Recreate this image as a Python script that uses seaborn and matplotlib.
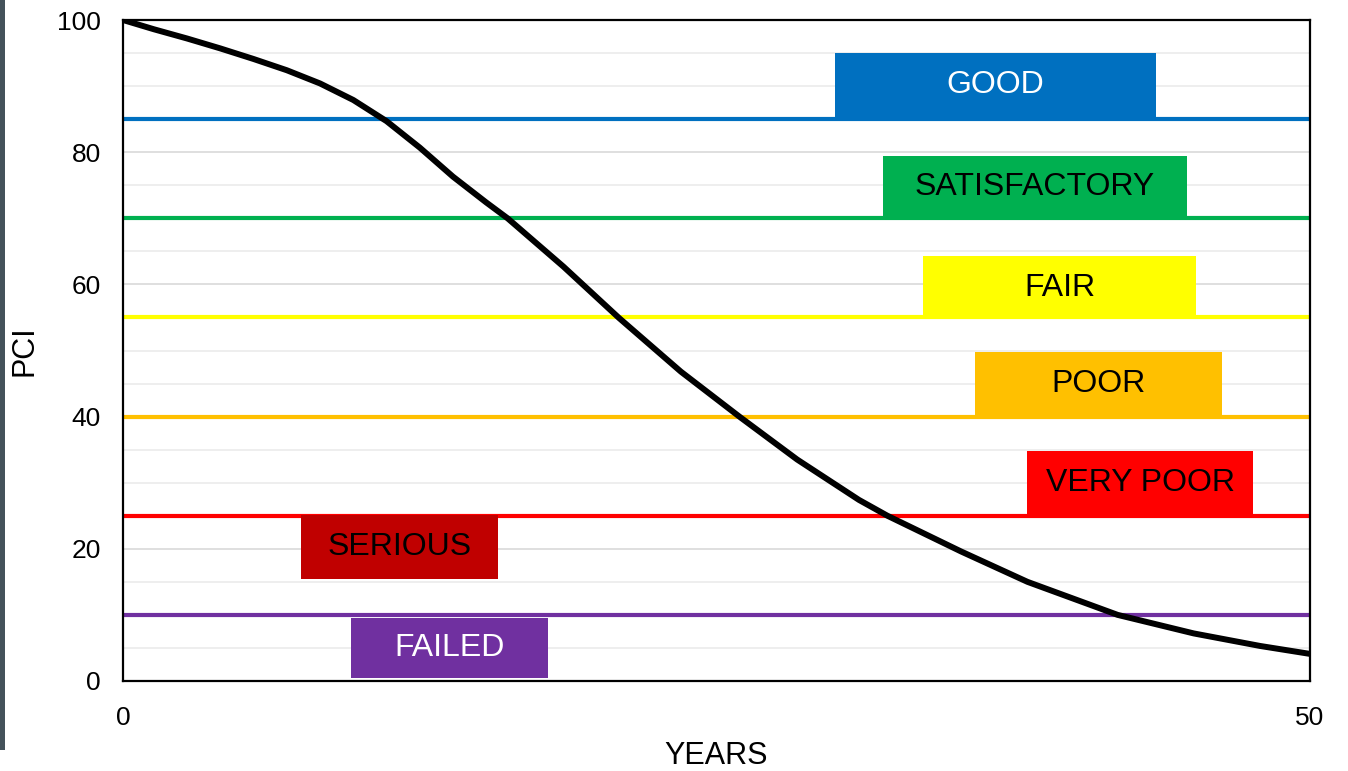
import matplotlib
matplotlib.use("Agg")
import matplotlib.pyplot as plt
import seaborn as sb
import pandas as pd
from matplotlib.patches import Rectangle

# deterioration curve
years = [0, 1.3, 2.7, 4.1, 5.5, 6.9, 8.3, 9.7, 11.1, 12.5, 13.9, 15.3, 16.2, 18.55, 20.9,
         23.5, 26.0, 28.4, 31.0, 32.2, 35.3, 38.1, 41.9, 45.1, 47.9, 50]
pci = [100, 98.6, 97.2, 95.7, 94.1, 92.4, 90.4, 87.9, 84.7, 80.7, 76.3, 72.4, 70.0, 62.7, 54.9,
       46.8, 39.9, 33.5, 27.4, 25.0, 19.6, 15.0, 10.0, 7.2, 5.3, 4.1]

# condition categories
categorias = ["GOOD", "SATISFACTORY", "FAIR", "POOR", "VERY POOR", "SERIOUS", "FAILED"]
colores = ["#0070C0", "#00B050", "#FFFF00", "#FFC000", "#FF0000", "#C00000", "#7030A0"]
color_texto = ["white", "black", "black", "black", "black", "black", "white"]

# threshold lines
umbrales = [85, 70, 55, 40, 25, 10]
colores_umbral = ["#0070C0", "#00B050", "#FFFF00", "#FFC000", "#FF0000", "#7030A0"]

# label boxes (x0, x1, y0, y1) in data units
cajas = [
    (30.0, 43.5, 85.4, 95.0),
    (32.0, 44.8, 70.2, 79.4),
    (33.7, 45.2, 54.7, 64.3),
    (35.9, 46.3, 40.2, 49.8),
    (38.1, 47.6, 25.1, 34.8),
    (7.5, 15.8, 15.5, 25.1),
    (9.6, 17.9, 0.5, 9.6),
]

sb.set_style("white")
plt.rcParams["font.family"] = ["Liberation Sans", "DejaVu Sans"]

fig = plt.figure(figsize=(13.48, 7.71), dpi=100)
ax = fig.add_axes([123 / 1348, 1 - 681 / 771, (1310 - 123) / 1348, (681 - 20) / 771])

# light grid every 5
for g in range(5, 100, 5):
    ax.axhline(g, color="#D9D9D9" if g % 20 == 0 else "#EBEBEB", lw=1.2, zorder=0)

for u, c in zip(umbrales, colores_umbral):
    ax.axhline(u, color=c, lw=3, zorder=2)

for nombre, caja, c, tc in zip(categorias, cajas, colores, color_texto):
    x0, x1, y0, y1 = caja
    ax.add_patch(Rectangle((x0, y0), x1 - x0, y1 - y0, facecolor=c, edgecolor="none", zorder=3))
    ax.text((x0 + x1) / 2, (y0 + y1) / 2, nombre, color=tc, ha="center", va="center",
            fontsize=23, zorder=4)

df = pd.DataFrame({"YEARS": years, "PCI": pci})
sb.lineplot(x="YEARS", y="PCI", data=df, color="black", lw=4.3, ax=ax, zorder=5,
            solid_joinstyle="round", solid_capstyle="butt")

ax.set_xlim(0, 50)
ax.set_ylim(0, 100)
ax.set_xticks([0, 50])
ax.set_yticks([0, 20, 40, 60, 80, 100])
ax.tick_params(axis="both", length=0, labelsize=19, colors="black")
ax.tick_params(axis="y", pad=16)
ax.tick_params(axis="x", pad=18)
ax.set_xlabel("YEARS", fontsize=22, color="black", labelpad=8)
ax.set_ylabel("PCI", fontsize=22, color="black")
ax.yaxis.set_label_coords(-0.07, 0.5)
for s in ax.spines.values():
    s.set_color("black")
    s.set_linewidth(1.6)
    s.set_visible(True)

# dark strip on the left edge of the slide
fig.patches.append(Rectangle((0, 1 - 750 / 771), 5 / 1348, 750 / 771, transform=fig.transFigure,
                             facecolor="#44525A", edgecolor="none"))

fig.savefig("out.png", dpi=100)
